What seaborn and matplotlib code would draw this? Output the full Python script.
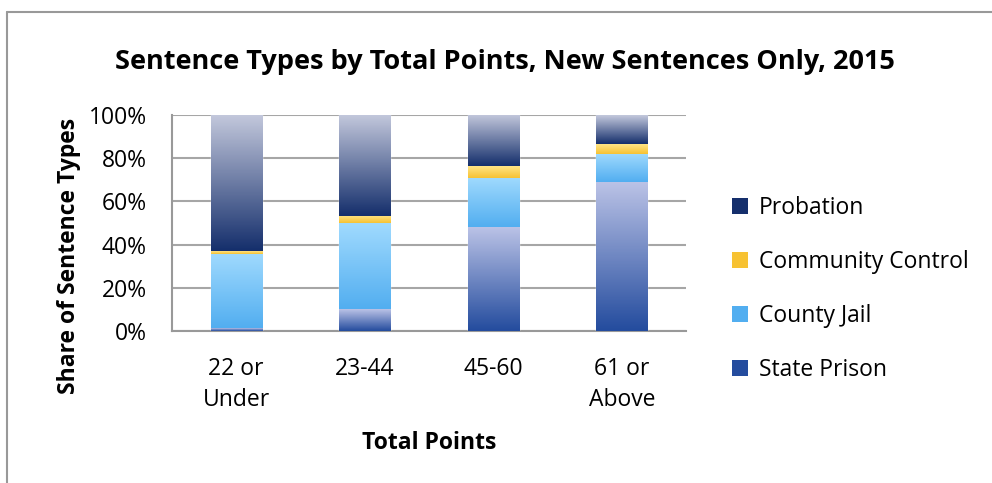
import numpy as np
import seaborn as sns
import matplotlib.pyplot as plt
from matplotlib.colors import LinearSegmentedColormap
from matplotlib.patches import Patch
from matplotlib.lines import Line2D

# %% data
categories = ['22 or\nUnder', '23-44', '45-60', '61 or\nAbove']
series = ['State Prison', 'County Jail', 'Community Control', 'Probation']
state_prison = [1.2, 10.0, 48.1, 68.9]
county_jail = [34.5, 39.8, 22.8, 13.2]
community_control = [1.2, 3.4, 5.4, 4.5]
probation = [63.1, 46.8, 23.7, 13.4]

# gradient (top, bottom) per series
grads = {
    'State Prison': ('#bac2e6', '#244c9e'),
    'County Jail': ('#a0dafe', '#52aef0'),
    'Community Control': ('#ffe486', '#f7c232'),
    'Probation': ('#c3c8dc', '#152f6c'),
}

# %% plot
sns.set_style('white')
plt.rcParams['font.family'] = ['Open Sans', 'DejaVu Sans']
plt.rcParams['text.color'] = 'black'
plt.rcParams['axes.labelcolor'] = 'black'
plt.rcParams['xtick.labelcolor'] = 'black'
plt.rcParams['ytick.labelcolor'] = 'black'

fig = plt.figure(figsize=(9.92, 4.83), dpi=100)
ax = fig.add_axes([172 / 992, 1 - 331 / 483, (686 - 172) / 992, (331 - 115) / 483])

values = [state_prison, county_jail, community_control, probation]
bottom = np.zeros(len(categories))
for name, vals in zip(series, values):
    n0 = len(ax.patches)
    sns.barplot(x=categories, y=vals, bottom=bottom, color=grads[name][1],
                width=0.4, ax=ax, zorder=3)
    cmap = LinearSegmentedColormap.from_list(name, [grads[name][1], grads[name][0]])
    for p in ax.patches[n0:]:
        x0, y0 = p.get_x(), p.get_y()
        w, h = p.get_width(), p.get_height()
        ax.imshow(np.linspace(0, 1, 100).reshape(-1, 1), cmap=cmap, origin='lower',
                  extent=[x0, x0 + w, y0, y0 + h], aspect='auto', zorder=4,
                  clip_path=p, clip_on=True)
    bottom = bottom + np.array(vals)

ax.set_xlim(-0.5, 3.5)
ax.set_ylim(0, 100)
ax.set_yticks(range(0, 101, 20))
ax.set_yticklabels([f'{v}%' for v in range(0, 101, 20)], fontsize=16.5)
ax.set_xticks(range(4))
ax.set_xticklabels(categories, fontsize=16.5, linespacing=1.35)
ax.set_xticks([-0.5, 0.5, 1.5, 2.5, 3.5], minor=True)
ax.tick_params(axis='x', which='major', length=0, pad=19)
ax.tick_params(axis='x', which='minor', length=8, color='#999999', width=1.5)
ax.tick_params(axis='y', length=8, color='#999999', width=1.5, pad=10)
ax.yaxis.grid(True, color='#a6a6a6', linewidth=1.5, zorder=0)
ax.set_axisbelow(True)
for s in ['top', 'right']:
    ax.spines[s].set_visible(False)
for s in ['left', 'bottom']:
    ax.spines[s].set_color('#999999')
    ax.spines[s].set_linewidth(1.5)

ax.set_xlabel('Total Points', fontsize=16.5, fontweight='bold', labelpad=14)
ax.set_ylabel('Share of Sentence Types', fontsize=16.5, fontweight='bold')
ax.yaxis.set_label_coords(-0.178, 0.347)
fig.text(0.509, 1 - 62 / 483, 'Sentence Types by Total Points, New Sentences Only, 2015',
         ha='center', va='center', fontsize=19.5, fontweight='bold')

# legend, top to bottom like the reference
handles = [Patch(facecolor=grads[n][1], edgecolor='none') for n in series[::-1]]
leg = fig.legend(handles, series[::-1], loc='center left', bbox_to_anchor=(723 / 992, 1 - 289 / 483),
                 frameon=False, fontsize=16.5, handlelength=0.7, handleheight=0.7,
                 handletextpad=0.45, labelspacing=1.32, borderaxespad=0)

# chart border (left and top visible)
fig.add_artist(Line2D([7 / 992, 7 / 992], [0, 1 - 12 / 483], color='#999999', lw=1.5))
fig.add_artist(Line2D([7 / 992, 1], [1 - 12 / 483, 1 - 12 / 483], color='#999999', lw=1.5))

fig.savefig('out.png', dpi=100)
